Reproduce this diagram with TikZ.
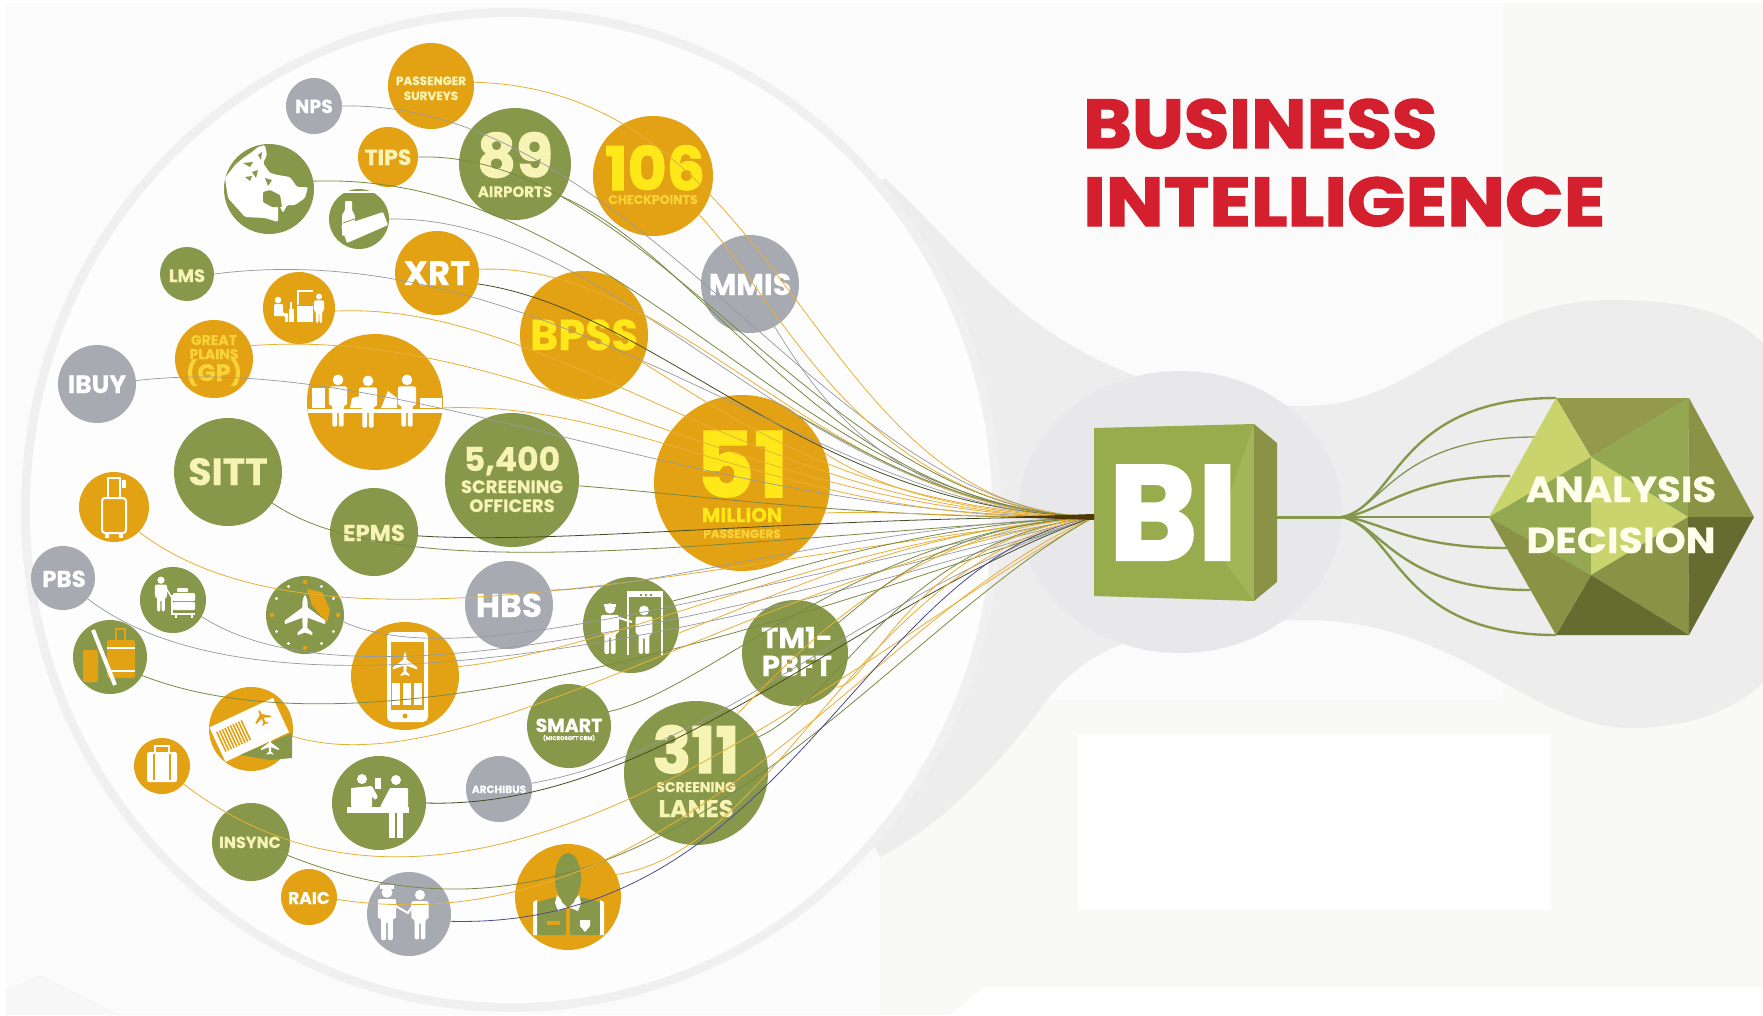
\documentclass[tikz,border=0pt]{standalone}
\usepackage{fontspec}
\usepackage{graphicx}
\usetikzlibrary{calc}
\setmainfont{Poppins}[BoldFeatures={FakeBold=0.4}]
\newfontfamily\heavy{Poppins}[BoldFeatures={FakeBold=1.8}]
\definecolor{org}{HTML}{E3A213}
\definecolor{olv}{HTML}{88984A}
\definecolor{gry}{HTML}{A8AAB2}
\definecolor{crm}{HTML}{F7F3B4}
\definecolor{ylw}{HTML}{FFE81A}
\definecolor{gld}{HTML}{F8D338}
\definecolor{red1}{HTML}{D4202E}
\definecolor{band}{HTML}{EDEDEE}
\definecolor{halo}{HTML}{E8E8EA}
\definecolor{pale}{HTML}{F9F9F7}
\definecolor{hA}{HTML}{C9D46C}
\definecolor{hB}{HTML}{93A851}
\definecolor{hC}{HTML}{949A4C}
\definecolor{hD}{HTML}{8A9345}
\definecolor{hE}{HTML}{666C30}
\tikzset{
 bub/.style={circle,inner sep=0pt,outer sep=0pt,draw=none},
 txt/.style={inner sep=0pt,anchor=base,font=\bfseries},
 lo/.style={draw=org!85!white,line width=.8pt},
 lg/.style={draw=gry!90!black,line width=.7pt},
 lv/.style={draw=olv!90!black,line width=.8pt},
 ld/.style={draw=black!50!olv,line width=.8pt},
 ln/.style={draw=blue!35!black!70,line width=.8pt},
 hexl/.style={draw=olv,line width=2.4pt},
 hexs/.style={draw=olv!80!gray,line width=1.3pt},
}
\newcommand\bub[5]{\node[bub,fill=#5,minimum size={#4*2pt}] (#1) at (#2,#3) {};}
\newcommand\tx[6]{\node[txt,text=#5] (#1) at (#2,#3) {\fontsize{#4}{#4}\selectfont #6};}
\newcommand\hx[6]{\node[txt,text=#5] (#1) at (#2,#3) {\heavy\bfseries\fontsize{#4}{#4}\selectfont #6};}
\newcommand\conn[4]{\draw[#1] (#2) .. controls (#3) and (#4) .. (tip);}
\newcommand\person[4][white]{\begin{scope}[shift={(#2,#3)},scale=#4]
 \fill[#1] (0,-27) circle (6.5);
 \fill[#1,rounded corners=2] (-11,-19) -- (11,-19) -- (11,4) -- (7,4) -- (7,30) -- (1,30) -- (1,8) -- (-1,8) -- (-1,30) -- (-7,30) -- (-7,4) -- (-11,4) -- cycle;
\end{scope}}
\newcommand\plane[4]{\begin{scope}[shift={(#1,#2)},scale=#3]
 \fill[#4] (0,-22) .. controls (3,-18) and (3,-12) .. (3,-8) -- (22,6) -- (22,10) -- (3,3) -- (2.5,14) -- (8,19) -- (8,22) -- (0,19) -- (-8,22) -- (-8,19) -- (-2.5,14) -- (-3,3) -- (-22,10) -- (-22,6) -- (-3,-8) .. controls (-3,-12) and (-3,-18) .. (0,-22) -- cycle;
\end{scope}}
\begin{document}
\begin{tikzpicture}[x=1pt,y=-1pt]
\useasboundingbox (0,0) rectangle (1763,1015);
% ---- background
\fill[white] (0,0) rectangle (1763,1015);
\fill[black!1.5!white] (6,3) rectangle (1763,1015);
\fill[pale] (1503,3) rectangle (1763,1015);
\fill[pale] (880,700) rectangle (1763,1015);
\fill[black!3!white] (6,1015) -- (6,990) -- (40,975) -- (120,1015) -- cycle;
\fill[band] (850,200) -- (885,178) .. controls (950,240) and (990,290) .. (1040,325)
  .. controls (1110,375) and (1200,406) .. (1305,406)
  .. controls (1420,406) and (1470,300) .. (1612,300)
  .. controls (1680,300) and (1730,310) .. (1763,343)
  -- (1763,683) .. controls (1730,715) and (1680,728) .. (1630,728)
  .. controls (1530,728) and (1460,620) .. (1305,620)
  .. controls (1190,620) and (1100,630) .. (1047,700)
  .. controls (980,790) and (930,830) .. (880,857) -- (850,800) -- cycle;
\fill[halo] (1180,512) ellipse (162 and 141);
\fill[black!6!white] (511,510) ellipse (490 and 502);
\fill[black!0.6!white] (511,510) ellipse (481 and 493);
\fill[white] (1078,734) rectangle (1551,910);
\fill[white] (950,1015) -- (985,987) -- (1763,987) -- (1763,1015) -- cycle;
% ---- bubbles
\bub{pass}{431}{86}{43}{org}
\bub{nps}{314}{106}{28}{gry}
\bub{tips}{388}{157}{30}{org}
\bub{air}{515}{164}{56}{olv}
\bub{chk}{653}{176}{60}{org}
\bub{globe}{269}{189}{45}{olv}
\bub{bottle}{359}{219}{30}{olv}
\bub{xrt}{437}{273}{42}{org}
\bub{lms}{187}{274}{27}{olv}
\bub{desk}{299}{308}{36}{org}
\bub{mmis}{750}{284}{49}{gry}
\bub{bpss}{584}{335}{64}{org}
\bub{gp}{214}{359}{39}{org}
\bub{ibuy}{97}{384}{39}{gry}
\bub{three}{375}{402}{68}{org}
\bub{sitt}{228}{472}{54}{olv}
\bub{off}{512}{480}{67}{olv}
\bub{mil}{742}{483}{88}{org}
\bub{lug}{114}{507}{35}{org}
\bub{epms}{374}{532}{44}{olv}
\bub{pbs}{63}{578}{32}{gry}
\bub{cart}{173}{600}{33}{olv}
\bub{clock}{305}{615}{39}{olv}
\bub{hbs}{509}{605}{44}{gry}
\bub{det}{631}{625}{48}{olv}
\bub{tm}{795}{653}{53}{olv}
\bub{phone}{405}{676}{54}{org}
\bub{nobag}{110}{657}{37}{olv}
\bub{tick}{251}{729}{42}{org}
\bub{smart}{569}{726}{42}{olv}
\bub{lanes}{696}{773}{72}{olv}
\bub{suit}{162}{766}{28}{org}
\bub{rec}{379}{803}{47}{olv}
\bub{arch}{499}{789}{33}{gry}
\bub{ins}{251}{842}{39}{olv}
\bub{raic}{309}{897}{28}{org}
\bub{hand}{409}{914}{42}{gry}
\bub{offi}{568}{897}{53}{org}
% ---- icons
% globe
\fill[white,rounded corners=1.5] (225,178) -- (235,165) -- (243,158) -- (252,152) -- (258,147) -- (265,145) -- (267,155) -- (263,163) -- (270,173) -- (278,175) -- (290,177) -- (297,187) -- (308,187) -- (305,198) -- (295,205) -- (287,205) -- (283,213) -- (278,203) -- (278,222) -- (265,218) -- (245,217) -- (228,198) -- cycle;
\fill[olv,rounded corners=1] (263,192) -- (270,190) -- (280,195) -- (282,207) -- (272,207) -- (263,202) -- cycle;
\fill[olv] (243,163) -- (253,162) -- (250,167) -- cycle;
\fill[olv] (252,172) -- (258,170) -- (256,178) -- cycle;
\fill[olv] (265,178) -- (272,180) -- (268,186) -- cycle;
\fill[olv] (245,177) -- (252,176) -- (250,181) -- cycle;
\fill[olv] (258,155) -- (262,152) -- (261,160) -- cycle;
% bottle
\fill[white] (333,191) rectangle (383,192.5);
\fill[white,rounded corners=1] (345,201) -- (352,201) -- (352,210) -- (355,216) -- (355,232) -- (342,236) -- (342,215) -- (345,210) -- cycle;
\fill[white,rounded corners=1] (341,226) -- (383,212) -- (388,225) -- (347,243) -- cycle;
\draw[olv,line width=.8pt] (343,223) -- (386,208);
% desk
\fill[white] (278,300) circle (3.3);
\fill[white,rounded corners=1] (274,304) -- (283,304) -- (283,313) -- (288,313) -- (288,322) -- (285,322) -- (285,316) -- (274,316) -- cycle;
\fill[white] (289,309) rectangle (294,322);
\fill[white] (290,302) rectangle (292,309);
\draw[white,line width=1.6pt] (298,305) -- (298,291) -- (313,291);
\fill[white] (297,306) rectangle (313,322);
\person{319}{309}{.46}
% three people + counter
\fill[white] (308,409) rectangle (443,413);
\fill[white] (312,388) rectangle (325,408);
\fill[white] (352,398) -- (360,396) -- (362,408) -- (350,408) -- cycle;
\fill[white] (381,408) -- (388,391) -- (397,398) -- (397,408) -- cycle;
\fill[white] (420,398) rectangle (442,408);
\person{338}{402}{.82}
\person{368}{403}{.82}
\person{407}{402}{.82}
% luggage
\draw[white,line width=2pt,rounded corners=3] (102,498) rectangle (126,533);
\draw[white,line width=2pt] (108,498) -- (108,478) -- (120,478) -- (120,498);
\fill[white] (122,480) rectangle (126,488);
\fill[white] (105,533) rectangle (109,538); \fill[white] (119,533) rectangle (123,538);
% cart man
\person{161}{595}{.55}
\draw[white,line width=1.4pt] (166,588) -- (172,598);
\fill[white,rounded corners=1] (177,588) rectangle (188,592);
\fill[white,rounded corners=1] (173,593) rectangle (195,601);
\fill[white,rounded corners=1] (173,602) rectangle (195,610);
\draw[white,line width=1.4pt] (172,595) -- (172,614) -- (195,614);
\fill[white] (175,615) rectangle (177,618); \fill[white] (191,615) rectangle (193,618);
% clock
\fill[org] (307,589) -- (322,592) -- (330,610) -- (327,623) -- (312,605) -- cycle;
\foreach \a in {30,60,120,150,210,240,300,330}{\fill[white] ($(305,615)+(\a:33)$) circle (1.6);}
\foreach \a in {90,180,270,0}{\fill[org] ($(305,615)+(\a:33)$) circle (2.2);}
\plane{305}{615}{.92}{white}
% phone
\fill[white,rounded corners=5] (387,632) rectangle (428,722);
\fill[org] (391,642) rectangle (424,710);
\plane{405}{664}{.55}{white}
\fill[white] (392,683) rectangle (400,705); \fill[white] (403,683) rectangle (411,705); \fill[white] (414,683) rectangle (422,705);
\fill[org] (405,716) circle (2.5);
% detector
\draw[white,line width=2pt] (628,655) -- (628,592) -- (662,592) -- (662,655);
\fill[white] (628,592) rectangle (662,597);
\foreach \i in {640,645,650}{\fill[olv] (\i,594) rectangle (\i+2,596);}
\person{610}{630}{.8}
\fill[white] (604,604) rectangle (616,607);
\person{644}{631}{.76}
\draw[white,line width=2pt] (616,617) -- (632,622);
% nobag
\fill[org,rounded corners=2] (107,640) rectangle (135,678);
\fill[white] (107,647) rectangle (135,649); \fill[white] (107,670) rectangle (135,672);
\fill[org,rounded corners=2] (83,650) rectangle (98,682);
\draw[org,line width=2pt] (116,640) -- (116,629) -- (125,629) -- (125,640);
\draw[white,line width=4pt] (93,630) -- (115,685);
% ticket
\begin{scope}[shift={(251,729)},rotate=25]
 \fill[white] (-37,-19) rectangle (33,19);
 \foreach \i in {-33,-30,...,-6}{\fill[org] (\i,-12) rectangle (\i+1.6,10);}
 \plane{15}{-6}{.38}{org}
\end{scope}
\fill[olv] (240,755) -- (292,733) -- (292,758) -- (270,760) -- cycle;
\plane{270}{746}{.4}{white}
% suitcase
\fill[white,rounded corners=2] (147,752) rectangle (177,782);
\draw[white,line width=2pt] (155,752) -- (155,746) -- (169,746) -- (169,752);
\fill[org] (153,754) rectangle (155,780); \fill[org] (169,754) rectangle (171,780);
% reception
\fill[white] (362,779) circle (5);
\fill[white] (396,780) circle (5);
\fill[white,rounded corners=1] (351,807) -- (351,788) -- (372,786) -- (378,797) -- (375,800) -- (372,796) -- (372,807) -- cycle;
\fill[white] (375,778) rectangle (381,789);
\fill[white,rounded corners=1] (380,807) -- (390,788) -- (408,788) -- (408,807) -- cycle;
\fill[white] (347,807) rectangle (409,813);
\fill[white] (389,813) rectangle (395,838);
\fill[white] (397,813) rectangle (403,838);
% handshake
\person{387}{915}{.84}
\fill[white] (380,885) rectangle (394,889);
\person{420}{916}{.78}
\draw[white,line width=2pt] (394,905) -- (408,913) -- (413,905);
% officer
\fill[olv,rounded corners=1.5] (537,902) -- (556,897) -- (568,912) -- (581,897) -- (600,902) -- (600,935) -- (537,935) -- cycle;
\fill[white] (533,902) -- (537,900) -- (537,935) -- (533,935) -- cycle;
\fill[white] (600,900) -- (604,902) -- (604,935) -- (600,935) -- cycle;
\fill[white] (557,895) -- (568,907) -- (558,911) -- (555,903) -- cycle;
\fill[white] (579,895) -- (568,907) -- (578,911) -- (581,903) -- cycle;
\fill[olv] (568,878) ellipse (13 and 25);
\fill[olv] (557,888) -- (579,888) -- (574,902) -- (568,908) -- (562,902) -- cycle;
\fill[org] (566,910) rectangle (570,935);
\fill[org] (547,921) rectangle (560,925);
\fill[white] (580,920) -- (590,920) -- (590,926) -- (585,932) -- (580,926) -- cycle;
% ---- texts
\tx{pass-t}{431}{85}{12}{crm}{PASSENGER}
\tx{surv-t}{431}{100}{12}{crm}{SURVEYS}
\tx{nps-t}{314}{113}{19}{white}{NPS}
\tx{tips-t}{388}{165}{22}{crm}{TIPS}
\hx{air-n}{515}{177}{60}{crm}{89}
\tx{air-t}{515}{197}{15}{crm}{AIRPORTS}
\hx{chk-n}{655}{190}{60}{ylw}{106}
\tx{chk-t}{653}{204}{12.5}{gld}{CHECKPOINTS}
\tx{xrt-t}{437}{285}{34}{white}{XRT}
\tx{lms-t}{187}{282}{18}{crm}{LMS}
\tx{mmis-t}{750}{295}{30}{white}{MMIS}
\tx{bpss-t}{584}{350}{43}{ylw}{BPSS}
\tx{gp1-t}{214}{345}{14}{gld}{GREAT}
\tx{gp2-t}{214}{359}{14}{gld}{PLAINS}
\tx{gp3-t}{214}{381}{24}{gld}{(GP)}
\tx{ibuy-t}{97}{393}{25}{white}{IBUY}
\tx{sitt-t}{228}{485}{38}{crm}{SITT}
\tx{off-n}{512}{471}{33}{crm}{5,400}
\tx{off-a}{512}{493}{18}{crm}{SCREENING}
\tx{off-b}{512}{512}{18}{crm}{OFFICERS}
\hx{mil-n}{742}{497}{90}{ylw}{51}
\tx{mil-a}{742}{522}{20}{ylw}{MILLION}
\tx{mil-b}{742}{538}{12}{gld}{PASSENGERS}
\tx{epms-t}{374}{541}{23}{crm}{EPMS}
\tx{hbs-t}{509}{617}{33}{white}{HBS}
\tx{pbs-t}{64}{587}{23}{white}{PBS}
\tx{tm-a}{797}{648}{29}{white}{TM1-}
\tx{tm-b}{797}{676}{29}{white}{PBFT}
\tx{smart-t}{569}{732}{19}{white}{SMART}
\tx{smart-s}{569}{740}{5.5}{white}{(MICROSOFT CRM)}
\hx{lan-n}{696}{773}{64}{crm}{311}
\tx{lan-a}{696}{792}{14}{crm}{SCREENING}
\tx{lan-b}{696}{817}{24}{crm}{LANES}
\tx{arch-t}{499}{793}{10.5}{white}{ARCHIBUS}
\tx{ins-t}{250}{848}{16}{crm}{INSYNC}
\tx{raic-t}{309}{904}{17}{white}{RAIC}
% ---- right part
\coordinate (tip) at (1094,517);
\coordinate (hub) at (1342,517);
\coordinate (biR) at (1277,517);
\coordinate (h1) at (1556,398);
\coordinate (h2) at (1535,437);
\coordinate (h3) at (1510,476);
\coordinate (h4) at (1491,517);
\coordinate (h5) at (1507,548);
\coordinate (h6) at (1530,590);
\coordinate (h7) at (1556,635);
\draw[hexl,line width=3pt] (biR) -- (hub);
\draw[hexl] (hub) .. controls (1397,505) and (1397,398) .. (h1);
\draw[hexs] (hub) .. controls (1382,510) and (1397,437) .. (h2);
\draw[hexl] (hub) .. controls (1377,515) and (1407,476) .. (h3);
\draw[hexs] (hub) -- (h4);
\draw[hexl] (hub) .. controls (1377,519) and (1407,548) .. (h5);
\draw[hexl] (hub) .. controls (1382,524) and (1397,590) .. (h6);
\draw[hexl] (hub) .. controls (1397,529) and (1397,635) .. (h7);
% hexagon
\coordinate (TL) at (1556,398); \coordinate (TR) at (1689,398);
\coordinate (R) at (1754,517); \coordinate (BR) at (1689,635);
\coordinate (BL) at (1556,635); \coordinate (L) at (1489,517);
\coordinate (IT) at (1591,457); \coordinate (IR) at (1688,517);
\coordinate (IB) at (1591,575);
\fill[hC] (TL) -- (TR) -- (IT) -- cycle;
\fill[hA] (TL) -- (IT) -- (L) -- cycle;
\fill[hB] (TR) -- (IT) -- (IR) -- cycle;
\fill[hD] (TR) -- (R) -- (IR) -- cycle;
\fill[hB] (L) -- (IT) -- (IB) -- cycle;
\fill[hA] (IT) -- (IR) -- (IB) -- cycle;
\fill[hD] (IR) -- (IB) -- (BR) -- cycle;
\fill[hE] (IR) -- (R) -- (BR) -- cycle;
\fill[hE] (BL) -- (BR) -- (IB) -- cycle;
\fill[hD] (L) -- (IB) -- (BL) -- cycle;
\tx{ana-t}{1621}{502}{36}{white!92!yellow}{\scalebox{1.08}[1]{ANALYSIS}}
\tx{dec-t}{1621}{553}{36}{white!92!yellow}{\scalebox{1.1}[1]{DECISION}}
% cube
\coordinate (c1) at (1094,428); \coordinate (c2) at (1254,424);
\coordinate (c3) at (1254,601); \coordinate (c4) at (1094,596);
\coordinate (c5) at (1277,443); \coordinate (c6) at (1277,582);
\fill[hB!95!yellow] (c1) -- (c2) -- (c3) -- (c4) -- cycle;
\fill[hB!70!hA] (c3) -- (c2) -- (1212,545) -- cycle;
\fill[hD] (c2) -- (c5) -- (c6) -- (c3) -- cycle;
\hx{bi-t}{1173}{560}{135}{white}{BI}
% title
\node[txt,anchor=base west,text=red1] (ttl1) at (1083,148) {\heavy\bfseries\fontsize{69}{69}\selectfont\scalebox{1.07}[1]{BUSINESS}};
\node[txt,anchor=base west,text=red1] (ttl2) at (1083,226) {\heavy\bfseries\fontsize{69}{69}\selectfont\scalebox{1.115}[1]{INTELLIGENCE}};
% ---- connectors
\conn{lo}{pass.5}{790,90}{810,510}
\conn{lg}{nps.east}{640,100}{830,510}
\conn{lv}{tips.east}{650,150}{820,510}
\conn{lv}{globe.10}{620,170}{800,510}
\conn{lg}{bottle.east}{620,215}{800,510}
\conn{lv}{air.-35}{710,260}{830,510}
\conn{lo}{chk.-40}{780,300}{860,505}
\conn{lg}{mmis.-60}{825,410}{900,510}
\conn{lo}{xrt.5}{680,260}{830,515}
\conn{ld}{xrt.-15}{660,310}{810,510}
\conn{lg}{lms.east}{560,230}{830,520}
\conn{lo}{desk.-5}{560,300}{760,520}
\conn{lo}{gp.20}{540,325}{750,520}
\conn{lg}{ibuy.5}{400,350}{710,520}
\conn{lo}{three.-5}{640,400}{790,525}
\conn{lv}{off.-5}{700,495}{870,520}
\conn{lo}{bpss.-25}{750,430}{870,510}
\conn{lo}{mil.20}{880,490}{970,515}
\conn{lo}{mil.-20}{880,510}{970,518}
\conn{lv}{mil.50}{860,450}{960,512}
\conn{lo}{lug.-45}{320,670}{700,560}
\conn{lv}{sitt.-35}{400,590}{720,540}
\conn{ld}{epms.-5}{560,545}{800,517}
\conn{lg}{hbs.20}{650,590}{860,525}
\conn{lg}{clock.-10}{470,680}{780,570}
\conn{lg}{cart.-30}{360,720}{760,600}
\conn{lg}{pbs.-40}{270,740}{740,630}
\conn{lv}{nobag.-30}{360,760}{740,640}
\conn{lo}{phone.10}{620,650}{820,540}
\conn{lo}{tick.-10}{470,790}{760,570}
\conn{lv}{det.30}{780,575}{910,525}
\conn{lo}{det.-10}{790,590}{910,530}
\conn{lv}{smart.20}{710,690}{860,530}
\conn{lo}{suit.-40}{480,1010}{850,650}
\conn{lv}{ins.-20}{650,1000}{870,640}
\conn{lg}{arch.10}{720,750}{870,590}
\conn{ld}{rec.east}{660,810}{860,600}
\conn{lo}{raic.-5}{680,950}{860,620}
\conn{ln}{hand.-10}{790,930}{860,560}
\conn{lo}{offi.25}{780,850}{860,560}
\conn{lv}{lanes.30}{840,700}{900,540}
\conn{lo}{lanes.55}{810,640}{910,530}
\conn{lv}{tm.35}{880,590}{940,525}
\conn{lo}{tm.-40}{870,690}{910,540}
\fill[black!65!org] (1000,517) -- (1094,514) -- (tip) -- (1094,520) -- cycle;
\end{tikzpicture}
\end{document}
